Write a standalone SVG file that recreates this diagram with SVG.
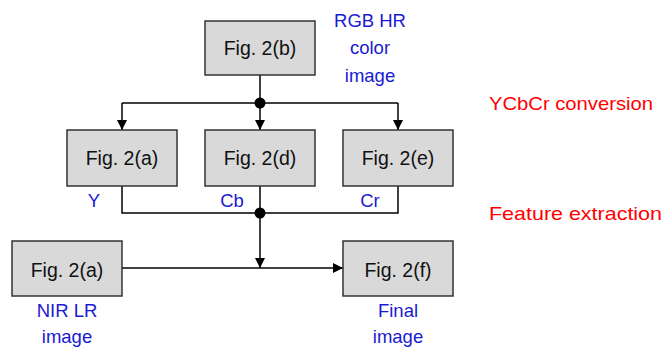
<svg xmlns="http://www.w3.org/2000/svg" width="664" height="349" viewBox="0 0 664 349">
<style>
.box{fill:#d9d9d9;stroke:#333;stroke-width:1.5}
.bt{font-family:"Liberation Sans",Arial,sans-serif;font-size:19.5px;fill:#111;text-anchor:middle}
.bl{font-family:"Liberation Sans",Arial,sans-serif;font-size:18.5px;fill:#1a1ad2;text-anchor:middle}
.rd{font-family:"Liberation Sans",Arial,sans-serif;font-size:18.5px;fill:#ff0000}
.ln{fill:none;stroke:#000;stroke-width:1.5}
</style>
<defs>
<marker id="ah" viewBox="0 0 10 10" refX="10" refY="5" markerWidth="10" markerHeight="10" markerUnits="userSpaceOnUse" orient="auto">
<path d="M0,0 L10,5 L0,10 Z" fill="#000"/>
</marker>
</defs>
<rect width="664" height="349" fill="#fff"/>
<g id="connectors">
<path class="ln" d="M260,75 V103"/>
<path class="ln" d="M122,103 H398"/>
<path class="ln" d="M122,103 V130" marker-end="url(#ah)"/>
<path class="ln" d="M260,103 V130" marker-end="url(#ah)"/>
<path class="ln" d="M398,103 V130" marker-end="url(#ah)"/>
<circle cx="260" cy="103" r="5.5" fill="#000"/>
<path class="ln" d="M122,186 V213 H398 V186"/>
<path class="ln" d="M260,186 V213"/>
<path class="ln" d="M260,213 V268" marker-end="url(#ah)"/>
<circle cx="260" cy="213" r="5.5" fill="#000"/>
<path class="ln" d="M122,268 H343" marker-end="url(#ah)"/>
</g>
<g id="n_b"><rect class="box" x="205" y="21" width="110" height="54"/><text class="bt" x="260" y="55">Fig. 2(b)</text></g>
<g id="n_a1"><rect class="box" x="67" y="130" width="110" height="56"/><text class="bt" x="122" y="165">Fig. 2(a)</text></g>
<g id="n_d"><rect class="box" x="205" y="130" width="110" height="56"/><text class="bt" x="260" y="165">Fig. 2(d)</text></g>
<g id="n_e"><rect class="box" x="343" y="130" width="110" height="56"/><text class="bt" x="398" y="165">Fig. 2(e)</text></g>
<g id="n_a2"><rect class="box" x="12" y="241" width="110" height="55"/><text class="bt" x="67" y="277">Fig. 2(a)</text></g>
<g id="n_f"><rect class="box" x="343" y="241" width="110" height="55"/><text class="bt" x="398" y="277">Fig. 2(f)</text></g>
<g id="labels">
<text class="bl" x="370" y="27">RGB HR</text>
<text class="bl" x="370" y="54">color</text>
<text class="bl" x="370" y="82">image</text>
<text class="bl" x="94" y="207">Y</text>
<text class="bl" x="232" y="207">Cb</text>
<text class="bl" x="370" y="207">Cr</text>
<text class="bl" x="67" y="317">NIR LR</text>
<text class="bl" x="67" y="343">image</text>
<text class="bl" x="398" y="317">Final</text>
<text class="bl" x="398" y="343">image</text>
<text class="rd" x="489" y="110" textLength="164" lengthAdjust="spacingAndGlyphs">YCbCr conversion</text>
<text class="rd" x="489" y="220" textLength="173" lengthAdjust="spacingAndGlyphs">Feature extraction</text>
</g>
</svg>
